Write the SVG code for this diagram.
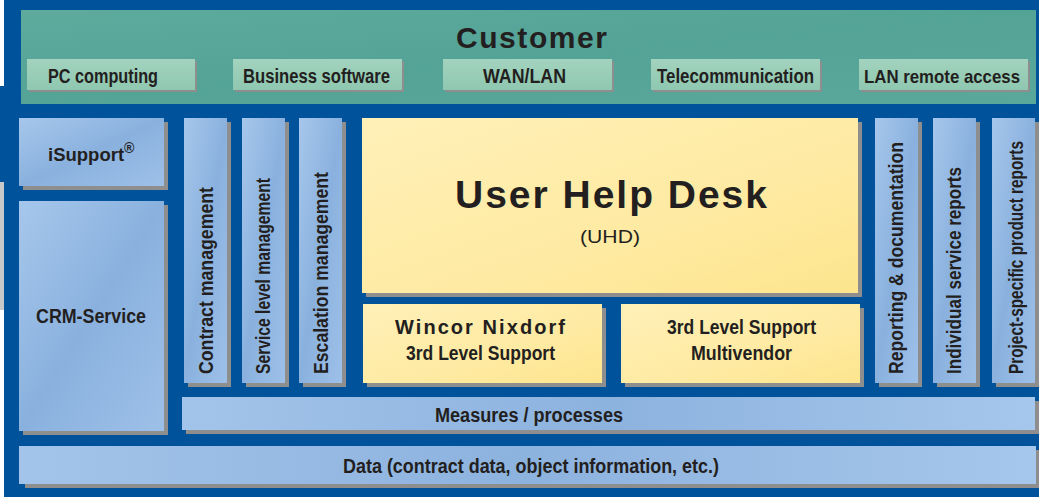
<svg xmlns="http://www.w3.org/2000/svg" width="1039" height="497" viewBox="0 0 1039 497">
<defs>
<linearGradient id="gTeal" x1="0" y1="0" x2="1" y2="1">
<stop offset="0" stop-color="#5eab9e"/><stop offset="0.5" stop-color="#53a396"/><stop offset="1" stop-color="#5aa89b"/>
</linearGradient>
<linearGradient id="gSub" x1="0" y1="0" x2="0" y2="1">
<stop offset="0" stop-color="#a3d3be"/><stop offset="1" stop-color="#8fc7b0"/>
</linearGradient>
<linearGradient id="gBlue" x1="0" y1="0" x2="1" y2="1">
<stop offset="0" stop-color="#a6c7ec"/><stop offset="0.5" stop-color="#8ab1de"/><stop offset="1" stop-color="#9dc0e8"/>
</linearGradient>
<linearGradient id="gBlueH" x1="0" y1="0" x2="1" y2="0">
<stop offset="0" stop-color="#a3c4ea"/><stop offset="0.5" stop-color="#8cb2de"/><stop offset="1" stop-color="#a6c7ec"/>
</linearGradient>
<linearGradient id="gYellow" x1="0" y1="0" x2="1" y2="1">
<stop offset="0" stop-color="#fff0b8"/><stop offset="0.6" stop-color="#feeaa2"/><stop offset="1" stop-color="#fde58e"/>
</linearGradient>
</defs>
<style>
.sh{fill:#8e8e8e}
.teal{fill:url(#gTeal)}
.sub{fill:url(#gSub)}
.blue{fill:url(#gBlue)}
.blueh{fill:url(#gBlueH)}
.yel{fill:url(#gYellow)}
text{font-family:"Liberation Sans",Arial,sans-serif;fill:#231f20;font-weight:bold}
.lbl{font-size:20px}
.reg{font-weight:normal}
</style>
<rect x="0" y="0" width="1039" height="497" fill="#00529b"/>
<rect x="0" y="0" width="4" height="86" fill="#ffffff"/>
<rect x="0" y="182" width="4" height="128" fill="#c8c8c8"/>
<rect x="0" y="310" width="4" height="187" fill="#ffffff"/>

<g id="customer">
<rect class="teal" x="21" y="10" width="1015" height="94"/>
<text x="456" y="48" font-size="30" textLength="151">Customer</text>
</g>
<g id="pc-computing">
<rect class="sh" x="29" y="61" width="168" height="31"/>
<rect class="sub" x="27" y="59" width="168" height="31"/>
<text class="lbl" x="48" y="83" textLength="110" lengthAdjust="spacingAndGlyphs">PC computing</text>
</g>
<g id="business-software">
<rect class="sh" x="235" y="61" width="169" height="31"/>
<rect class="sub" x="233" y="59" width="169" height="31"/>
<text class="lbl" x="243" y="83" textLength="147" lengthAdjust="spacingAndGlyphs">Business software</text>
</g>
<g id="wan-lan">
<rect class="sh" x="445" y="61" width="169" height="31"/>
<rect class="sub" x="443" y="59" width="169" height="31"/>
<text class="lbl" x="483" y="83" textLength="83" lengthAdjust="spacingAndGlyphs">WAN/LAN</text>
</g>
<g id="telecommunication">
<rect class="sh" x="653" y="61" width="169" height="31"/>
<rect class="sub" x="651" y="59" width="169" height="31"/>
<text class="lbl" x="657" y="83" textLength="157" lengthAdjust="spacingAndGlyphs">Telecommunication</text>
</g>
<g id="lan-remote-access">
<rect class="sh" x="861" y="61" width="169" height="31"/>
<rect class="sub" x="859" y="59" width="169" height="31"/>
<text x="864" y="83" font-size="18.5" textLength="156" lengthAdjust="spacingAndGlyphs">LAN remote access</text>
</g>

<g id="isupport">
<rect class="sh" x="23" y="122" width="145" height="68"/>
<rect class="blue" x="19" y="118" width="145" height="68"/>
<text x="48" y="161" font-size="18.5">iSupport<tspan font-size="14" dy="-8">®</tspan></text>
</g>
<g id="crm-service">
<rect class="sh" x="23" y="205" width="145" height="230"/>
<rect class="blue" x="19" y="201" width="145" height="230"/>
<text class="lbl" x="36" y="323" textLength="110" lengthAdjust="spacingAndGlyphs">CRM-Service</text>
</g>

<g id="contract-management">
<rect class="sh" x="188" y="122" width="43" height="265"/>
<rect class="blue" x="184" y="118" width="43" height="265"/>
<text class="lbl" x="213" y="374" transform="rotate(-90 213 374)" textLength="187" lengthAdjust="spacingAndGlyphs">Contract management</text>
</g>
<g id="service-level-management">
<rect class="sh" x="246" y="122" width="43" height="265"/>
<rect class="blue" x="242" y="118" width="43" height="265"/>
<text class="lbl" x="270" y="374" transform="rotate(-90 270 374)" textLength="196" lengthAdjust="spacingAndGlyphs">Service level management</text>
</g>
<g id="escalation-management">
<rect class="sh" x="303" y="122" width="43" height="265"/>
<rect class="blue" x="299" y="118" width="43" height="265"/>
<text class="lbl" x="328" y="374" transform="rotate(-90 328 374)" textLength="202" lengthAdjust="spacingAndGlyphs">Escalation management</text>
</g>

<g id="user-help-desk">
<rect class="sh" x="366" y="122" width="496" height="175"/>
<rect class="yel" x="362" y="118" width="496" height="175"/>
<text x="455" y="208" font-size="39" textLength="312">User Help Desk</text>
<text class="reg" x="580" y="243" font-size="19" textLength="60" lengthAdjust="spacingAndGlyphs">(UHD)</text>
</g>
<g id="wincor-nixdorf-support">
<rect class="sh" x="367" y="308" width="239" height="79"/>
<rect class="yel" x="363" y="304" width="239" height="79"/>
<text x="395" y="334" font-size="20" textLength="170">Wincor Nixdorf</text>
<text class="lbl" x="406" y="360" textLength="149" lengthAdjust="spacingAndGlyphs">3rd Level Support</text>
</g>
<g id="multivendor-support">
<rect class="sh" x="625" y="308" width="239" height="79"/>
<rect class="yel" x="621" y="304" width="239" height="79"/>
<text class="lbl" x="667" y="334" textLength="149" lengthAdjust="spacingAndGlyphs">3rd Level Support</text>
<text class="lbl" x="691" y="360" textLength="101" lengthAdjust="spacingAndGlyphs">Multivendor</text>
</g>

<g id="reporting-documentation">
<rect class="sh" x="879" y="122" width="43" height="265"/>
<rect class="blue" x="875" y="118" width="43" height="265"/>
<text class="lbl" x="903" y="374" transform="rotate(-90 903 374)" textLength="232" lengthAdjust="spacingAndGlyphs">Reporting &amp; documentation</text>
</g>
<g id="individual-service-reports">
<rect class="sh" x="937" y="122" width="43" height="265"/>
<rect class="blue" x="933" y="118" width="43" height="265"/>
<text class="lbl" x="961" y="374" transform="rotate(-90 961 374)" textLength="207" lengthAdjust="spacingAndGlyphs">Individual service reports</text>
</g>
<g id="project-specific-product-reports">
<rect class="sh" x="996" y="122" width="43" height="265"/>
<rect class="blue" x="992" y="118" width="43" height="265"/>
<text class="lbl" x="1023" y="374" transform="rotate(-90 1023 374)" textLength="233" lengthAdjust="spacingAndGlyphs">Project-specific product reports</text>
</g>

<g id="measures-processes">
<rect class="sh" x="186" y="401" width="853" height="33"/>
<rect class="blueh" x="182" y="397" width="853" height="33"/>
<text class="lbl" x="435" y="422" textLength="188" lengthAdjust="spacingAndGlyphs">Measures / processes</text>
</g>
<g id="data">
<rect class="sh" x="25" y="450" width="1014" height="38"/>
<rect class="blueh" x="19" y="446" width="1017" height="38"/>
<text class="lbl" x="343" y="473" textLength="376" lengthAdjust="spacingAndGlyphs">Data (contract data, object information, etc.)</text>
</g>
<g id="connectors"/>
</svg>
